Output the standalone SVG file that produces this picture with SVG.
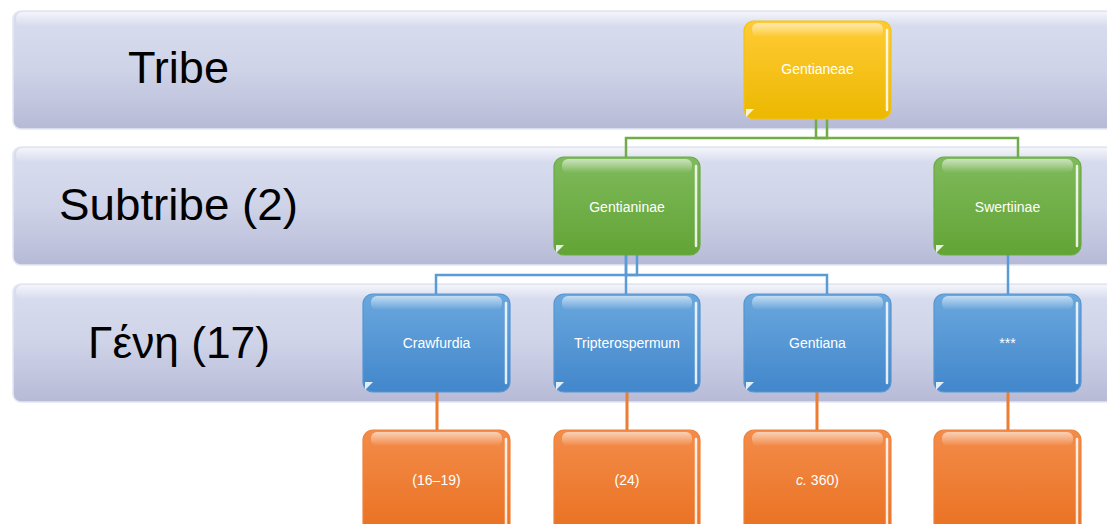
<svg xmlns="http://www.w3.org/2000/svg" width="1107" height="524" viewBox="0 0 1107 524">
<defs>
<linearGradient id="gBand" x1="0" y1="0" x2="0" y2="1">
<stop offset="0" stop-color="#d9deef"/><stop offset="0.5" stop-color="#cfd3e8"/><stop offset="1" stop-color="#b6bad6"/>
</linearGradient>
<linearGradient id="gY" x1="0" y1="0" x2="0" y2="1">
<stop offset="0" stop-color="#ffcb35"/><stop offset="1" stop-color="#ecb800"/>
</linearGradient>
<linearGradient id="gG" x1="0" y1="0" x2="0" y2="1">
<stop offset="0" stop-color="#7fba5c"/><stop offset="1" stop-color="#62a435"/>
</linearGradient>
<linearGradient id="gB" x1="0" y1="0" x2="0" y2="1">
<stop offset="0" stop-color="#6aa7dd"/><stop offset="1" stop-color="#4287cc"/>
</linearGradient>
<linearGradient id="gO" x1="0" y1="0" x2="0" y2="1">
<stop offset="0" stop-color="#f38c4a"/><stop offset="1" stop-color="#e96f1e"/>
</linearGradient>
<linearGradient id="gShine" x1="0" y1="0" x2="0" y2="1">
<stop offset="0" stop-color="#ffffff" stop-opacity="0.6"/><stop offset="1" stop-color="#ffffff" stop-opacity="0"/>
</linearGradient>
<linearGradient id="gBandTop" x1="0" y1="0" x2="0" y2="1">
<stop offset="0" stop-color="#ffffff" stop-opacity="0.7"/><stop offset="1" stop-color="#ffffff" stop-opacity="0"/>
</linearGradient>
</defs>
<style>
.band{fill:url(#gBand);stroke:#e4e7f3;stroke-width:1.5}
.bandTop{fill:url(#gBandTop)}
.bandLbl{font-family:"Liberation Sans","Noto Sans",sans-serif;font-size:44px;fill:#000}
.box{stroke-width:1.2}
.y{fill:url(#gY);stroke:#f2c21a}
.g{fill:url(#gG);stroke:#6aaa45}
.b{fill:url(#gB);stroke:#5696d2}
.o{fill:url(#gO);stroke:#ee823c}
.shine{fill:url(#gShine)}
.edge{stroke:#ffffff;stroke-opacity:0.85;stroke-width:2.5;fill:none;stroke-linecap:round}
.corner{fill:#ffffff;fill-opacity:0.85}
.lbl{font-family:"Liberation Sans","Noto Sans",sans-serif;font-size:14px;fill:#ffffff;text-anchor:middle}
.cg{stroke:#70ad47;stroke-width:2.5;fill:none}
.cb{stroke:#5b9bd5;stroke-width:2.5;fill:none}
.co{stroke:#ed7d31;stroke-width:3;fill:none}
</style>

<g id="band-tribe">
<rect class="band" x="13" y="11" width="1110" height="118" rx="8"/>
<rect class="bandTop" x="16" y="12" width="1100" height="14" rx="6"/>
<text class="bandLbl" x="128" y="83" textLength="101" lengthAdjust="spacingAndGlyphs">Tribe</text>
</g>
<g id="band-subtribe">
<rect class="band" x="13" y="147" width="1110" height="118" rx="8"/>
<rect class="bandTop" x="16" y="148" width="1100" height="14" rx="6"/>
<text class="bandLbl" x="59" y="220" textLength="239" lengthAdjust="spacingAndGlyphs">Subtribe (2)</text>
</g>
<g id="band-genera">
<rect class="band" x="13" y="284" width="1110" height="118" rx="8"/>
<rect class="bandTop" x="16" y="285" width="1100" height="14" rx="6"/>
<text class="bandLbl" x="88" y="358" textLength="182" lengthAdjust="spacingAndGlyphs">Γένη (17)</text>
</g>

<g id="connectors">
<path class="cg" d="M827,119 V138 H626 V157"/>
<path class="cg" d="M816,119 V138 H1018 V157"/>
<path class="cb" d="M637,255 V275 H436 V294"/>
<path class="cb" d="M626,255 V294"/>
<path class="cb" d="M626,255 V275 H827 V294"/>
<path class="cb" d="M1008,255 V294"/>
<path class="co" d="M437,392 V430"/>
<path class="co" d="M627,392 V430"/>
<path class="co" d="M817,392 V430"/>
<path class="co" d="M1008,392 V430"/>
</g>

<g id="node-gentianeae">
<rect class="box y" x="744" y="21" width="147" height="98" rx="10"/>
<rect class="shine" x="752" y="23" width="131" height="14" rx="6"/>
<line class="edge" x1="887" y1="30" x2="887" y2="110"/>
<path class="corner" d="M746,117 L746,109 L754,109 Z"/>
<text class="lbl" x="817.5" y="74">Gentianeae</text>
</g>

<g id="node-gentianinae">
<rect class="box g" x="554" y="157" width="146" height="98" rx="10"/>
<rect class="shine" x="562" y="159" width="130" height="14" rx="6"/>
<line class="edge" x1="696" y1="166" x2="696" y2="246"/>
<path class="corner" d="M556,253 L556,245 L564,245 Z"/>
<text class="lbl" x="627" y="212">Gentianinae</text>
</g>

<g id="node-swertiinae">
<rect class="box g" x="934" y="157" width="147" height="98" rx="10"/>
<rect class="shine" x="942" y="159" width="131" height="14" rx="6"/>
<line class="edge" x1="1077" y1="166" x2="1077" y2="246"/>
<path class="corner" d="M936,253 L936,245 L944,245 Z"/>
<text class="lbl" x="1007.5" y="212">Swertiinae</text>
</g>

<g id="node-crawfurdia">
<rect class="box b" x="363" y="294" width="147" height="98" rx="10"/>
<rect class="shine" x="371" y="296" width="131" height="14" rx="6"/>
<line class="edge" x1="506" y1="303" x2="506" y2="383"/>
<path class="corner" d="M365,390 L365,382 L373,382 Z"/>
<text class="lbl" x="436.5" y="348">Crawfurdia</text>
</g>

<g id="node-tripterospermum">
<rect class="box b" x="554" y="294" width="146" height="98" rx="10"/>
<rect class="shine" x="562" y="296" width="130" height="14" rx="6"/>
<line class="edge" x1="696" y1="303" x2="696" y2="383"/>
<path class="corner" d="M556,390 L556,382 L564,382 Z"/>
<text class="lbl" x="627" y="348">Tripterospermum</text>
</g>

<g id="node-gentiana">
<rect class="box b" x="744" y="294" width="147" height="98" rx="10"/>
<rect class="shine" x="752" y="296" width="131" height="14" rx="6"/>
<line class="edge" x1="887" y1="303" x2="887" y2="383"/>
<path class="corner" d="M746,390 L746,382 L754,382 Z"/>
<text class="lbl" x="817.5" y="348">Gentiana</text>
</g>

<g id="node-stars">
<rect class="box b" x="934" y="294" width="147" height="98" rx="10"/>
<rect class="shine" x="942" y="296" width="131" height="14" rx="6"/>
<line class="edge" x1="1077" y1="303" x2="1077" y2="383"/>
<path class="corner" d="M936,390 L936,382 L944,382 Z"/>
<text class="lbl" x="1007.5" y="348">***</text>
</g>

<g id="node-count-crawfurdia">
<rect class="box o" x="363" y="430" width="147" height="110" rx="10"/>
<rect class="shine" x="371" y="432" width="131" height="14" rx="6"/>
<line class="edge" x1="506" y1="439" x2="506" y2="530"/>
<text class="lbl" x="436.5" y="485">(16–19)</text>
</g>

<g id="node-count-tripterospermum">
<rect class="box o" x="554" y="430" width="146" height="110" rx="10"/>
<rect class="shine" x="562" y="432" width="130" height="14" rx="6"/>
<line class="edge" x1="696" y1="439" x2="696" y2="530"/>
<text class="lbl" x="627" y="485">(24)</text>
</g>

<g id="node-count-gentiana">
<rect class="box o" x="744" y="430" width="147" height="110" rx="10"/>
<rect class="shine" x="752" y="432" width="131" height="14" rx="6"/>
<line class="edge" x1="887" y1="439" x2="887" y2="530"/>
<text class="lbl" x="817.5" y="485"><tspan font-style="italic">c.</tspan> 360)</text>
</g>

<g id="node-count-stars">
<rect class="box o" x="934" y="430" width="147" height="110" rx="10"/>
<rect class="shine" x="942" y="432" width="131" height="14" rx="6"/>
<line class="edge" x1="1077" y1="439" x2="1077" y2="530"/>
</g>
</svg>
